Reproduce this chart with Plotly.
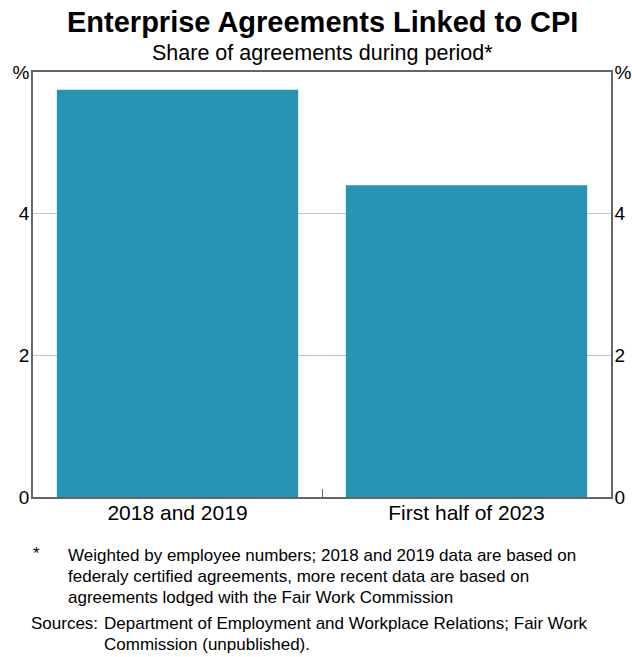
import plotly.graph_objects as go

# Data
categories = ["2018 and 2019", "First half of 2023"]
share_pct = [5.75, 4.4]
y_tickvals = [0, 2, 4, 6]
y_ticktext = ["0", "2", "4", "%"]

title_text = "Enterprise Agreements Linked to CPI"
subtitle_text = "Share of agreements during period*"
footnote_lines = [
    "Weighted by employee numbers; 2018 and 2019 data are based on",
    "federaly certified agreements, more recent data are based on",
    "agreements lodged with the Fair Work Commission",
]
source_lines = [
    "Department of Employment and Workplace Relations; Fair Work",
    "Commission (unpublished).",
]

# Figure geometry (pixels)
FIG_W, FIG_H = 632, 657
M_L, M_R, M_T, M_B = 33, 21, 72, 160
PLOT_W = FIG_W - M_L - M_R
PLOT_H = FIG_H - M_T - M_B

FONT = "Liberation Sans, Arial, sans-serif"
BAR_COLOR = "#2894b3"
FRAME_COLOR = "#666666"
GRID_COLOR = "#c4c4c4"


def px_x(p):
    return (p - M_L) / PLOT_W


def px_y(p):
    return (FIG_H - M_B - p) / PLOT_H


fig = go.Figure()
fig.add_trace(
    go.Bar(
        x=categories,
        y=share_pct,
        marker=dict(color=BAR_COLOR, line=dict(width=0)),
        hoverinfo="skip",
        showlegend=False,
    )
)
# Invisible trace that carries the right-hand axis
fig.add_trace(
    go.Scatter(
        x=categories,
        y=[None, None],
        yaxis="y2",
        mode="markers",
        hoverinfo="skip",
        showlegend=False,
    )
)

axis_font = dict(family=FONT, size=21, color="#000000")
ytick_font = dict(family=FONT, size=19, color="#000000")

fig.update_layout(
    width=FIG_W,
    height=FIG_H,
    margin=dict(l=M_L, r=M_R, t=M_T, b=M_B, pad=0, autoexpand=False),
    paper_bgcolor="white",
    plot_bgcolor="white",
    bargap=0.165,
    font=dict(family=FONT, color="#000000"),
    xaxis=dict(
        type="category",
        automargin=False,
        showline=True,
        mirror=True,
        linecolor=FRAME_COLOR,
        linewidth=1.5,
        ticks="inside",
        tickson="boundaries",
        ticklen=8,
        tickcolor=FRAME_COLOR,
        tickwidth=1,
        tickfont=axis_font,
        ticklabelstandoff=-4,
        showgrid=False,
        zeroline=False,
        fixedrange=True,
    ),
    yaxis=dict(
        range=[0, 6],
        automargin=False,
        tickvals=y_tickvals,
        ticktext=y_ticktext,
        ticks="",
        tickfont=ytick_font,
        ticklabelstandoff=-2,
        showgrid=True,
        gridcolor=GRID_COLOR,
        gridwidth=1,
        showline=True,
        linecolor=FRAME_COLOR,
        linewidth=1.5,
        zeroline=False,
        fixedrange=True,
    ),
    yaxis2=dict(
        range=[0, 6],
        automargin=False,
        overlaying="y",
        side="right",
        tickvals=y_tickvals,
        ticktext=y_ticktext,
        ticks="",
        tickfont=ytick_font,
        ticklabelstandoff=-2,
        showgrid=False,
        showline=True,
        linecolor=FRAME_COLOR,
        linewidth=1.5,
        zeroline=False,
        fixedrange=True,
    ),
)

annotations = [
    dict(
        text=f"<b>{title_text}</b>",
        x=0.5, xref="paper", xanchor="center",
        y=px_y(22), yref="paper", yanchor="middle",
        showarrow=False,
        font=dict(family=FONT, size=29, color="#000000"),
    ),
    dict(
        text=subtitle_text,
        x=0.5, xref="paper", xanchor="center",
        y=px_y(53), yref="paper", yanchor="middle",
        showarrow=False,
        font=dict(family=FONT, size=21.5, color="#000000"),
    ),
    dict(
        text="*",
        x=px_x(31), xref="paper", xanchor="left",
        y=px_y(553), yref="paper", yanchor="middle",
        showarrow=False,
        font=dict(family=FONT, size=17, color="#000000"),
    ),
]

note_font = dict(family=FONT, size=17, color="#000000")
for i, line in enumerate(footnote_lines):
    annotations.append(
        dict(
            text=line,
            x=px_x(66), xref="paper", xanchor="left",
            y=px_y(555 + 21 * i), yref="paper", yanchor="middle",
            showarrow=False,
            font=note_font,
        )
    )

annotations.append(
    dict(
        text="Sources:",
        x=px_x(29), xref="paper", xanchor="left",
        y=px_y(623), yref="paper", yanchor="middle",
        showarrow=False,
        font=note_font,
    )
)
for i, line in enumerate(source_lines):
    annotations.append(
        dict(
            text=line,
            x=px_x(102), xref="paper", xanchor="left",
            y=px_y(623 + 21 * i), yref="paper", yanchor="middle",
            showarrow=False,
            font=note_font,
        )
    )

fig.update_layout(annotations=annotations)

fig.write_html("out.html")
